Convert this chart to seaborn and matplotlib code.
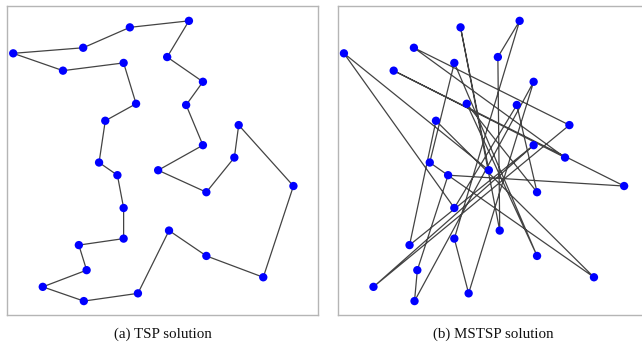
import numpy as np
import pandas as pd
import matplotlib
matplotlib.use("Agg")
import matplotlib.pyplot as plt
import seaborn as sns

# City coordinates (same cities in both panels)
city_x = [2.0, 24.5, 39.5, 58.5, 51.5, 63.0, 57.6, 63.0, 48.6, 64.1,
          73.1, 74.5, 92.1, 82.4, 64.1, 52.1, 42.1, 24.7, 11.5, 25.6,
          23.1, 37.5, 37.5, 35.5, 29.6, 31.6, 41.5, 37.5, 18.0]
city_y = [84.6, 86.4, 93.0, 95.1, 83.4, 75.4, 67.9, 54.9, 46.8, 39.7,
          50.9, 61.4, 41.7, 12.2, 19.1, 27.3, 7.0, 4.5, 9.1, 14.5,
          22.6, 24.7, 34.6, 45.2, 49.3, 62.8, 68.3, 81.5, 79.0]

# Visiting orders of the two tours
tsp_order = list(range(29))
mstsp_order = [7, 18, 11, 1, 10, 28, 12, 23, 19, 17, 5, 16, 21, 3, 4,
               15, 2, 8, 0, 22, 6, 9, 26, 14, 27, 24, 13, 25, 20]

captions = ["(a) TSP solution", "(b) MSTSP solution"]

sns.set_theme(style="white")
plt.rcParams["font.family"] = ["Liberation Serif", "DejaVu Serif"]

fig = plt.figure(figsize=(6.42, 3.44), dpi=100)
W, H = 642, 344
ax_w, ax_h = 311, 309.3
lefts = [7, 337.7]
bottom = H - 315

cities = pd.DataFrame({"x": city_x, "y": city_y})

for left, order, cap in zip(lefts, [tsp_order, mstsp_order], captions):
    ax = fig.add_axes([left / W, bottom / H, ax_w / W, ax_h / H])
    closed = order + [order[0]]
    path = cities.iloc[closed].reset_index(drop=True)
    sns.lineplot(data=path, x="x", y="y", sort=False, estimator=None,
                 color="#222222", linewidth=0.9, alpha=0.85, ax=ax, zorder=1)
    sns.scatterplot(data=cities, x="x", y="y", color="#0000ff", s=36,
                    edgecolor="none", linewidth=0, ax=ax, zorder=2)
    ax.set_xlim(0, 100)
    ax.set_ylim(0, 100)
    ax.set_xticks([])
    ax.set_yticks([])
    ax.set_xlabel("")
    ax.set_ylabel("")
    for sp in ax.spines.values():
        sp.set_visible(True)
        sp.set_color("#b5b5b5")
        sp.set_linewidth(1.0)
    fig.text((left + ax_w / 2) / W, 1 - 334 / H, cap, ha="center",
             va="center", fontsize=10.8, color="#111111")

fig.savefig("out.png", dpi=100)
